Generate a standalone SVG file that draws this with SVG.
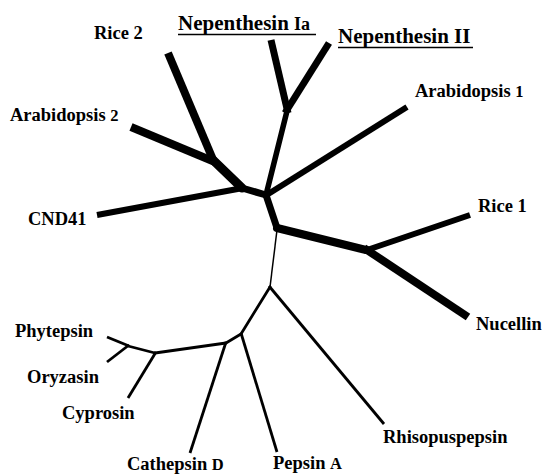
<svg xmlns="http://www.w3.org/2000/svg" width="542" height="475" viewBox="0 0 542 475">
<style>
text{font-family:"Liberation Serif","Times New Roman",serif;font-weight:bold;font-size:18.5px;fill:#000}
.big{font-size:21px}
.sm{font-size:16.5px}
.ul{stroke:#000;stroke-width:1.6}
line{stroke:#000;stroke-linecap:butt}
.in{stroke-linecap:round}
.w1{stroke-width:1.5}
.w3{stroke-width:2.8}
.w5{stroke-width:5.5}
.w6{stroke-width:6}
.w7{stroke-width:7}
.w8{stroke-width:8}
.w9{stroke-width:9}
</style>
<rect width="542" height="475" fill="#fff"/>
<g id="connectors">
<line class="in w9" x1="213" y1="160" x2="242" y2="188"/>
<line class="in w7" x1="242" y1="188" x2="266" y2="195"/>
<line class="in w5" x1="287" y1="111" x2="266" y2="195"/>
<line class="in w7" x1="266" y1="195" x2="277" y2="228"/>
<line class="in w8" x1="277" y1="228" x2="366" y2="250"/>
<line class="w1" x1="277" y1="230" x2="270" y2="287"/>
<line class="w8" x1="168" y1="53" x2="214" y2="162"/>
<line class="w8" x1="131" y1="127" x2="215" y2="162"/>
<line class="w6" x1="97" y1="215" x2="243" y2="188"/>
<line class="w7" x1="271" y1="40" x2="288" y2="113"/>
<line class="w7" x1="329" y1="43" x2="285" y2="113"/>
<line class="w6" x1="407" y1="107" x2="265" y2="196"/>
<line class="w6" x1="470" y1="215" x2="364" y2="251"/>
<line class="w8" x1="468" y1="317" x2="364" y2="248"/>
<line class="in w3" x1="270" y1="287" x2="241" y2="334"/>
<line class="in w3" x1="241" y1="334" x2="226" y2="343"/>
<line class="in w3" x1="226" y1="343" x2="155" y2="353"/>
<line class="in w3" x1="155" y1="353" x2="128" y2="346"/>
<line class="w3" x1="384" y1="424" x2="269" y2="286"/>
<line class="w3" x1="277" y1="452" x2="241" y2="333"/>
<line class="w3" x1="190" y1="453" x2="226" y2="342"/>
<line class="w3" x1="128" y1="398" x2="156" y2="352"/>
<line class="w3" x1="107" y1="337" x2="129" y2="346"/>
<line class="w3" x1="107" y1="362" x2="129" y2="345"/>
</g>
<g id="rice2"><text x="94" y="39">Rice 2</text></g>
<g id="nepenthesin-ia"><text class="big" x="178" y="30">Nepenthesin <tspan style="font-size:18px">Ia</tspan></text><line class="ul" x1="178" y1="34.5" x2="316" y2="34.5"/></g>
<g id="nepenthesin-ii"><text class="big" x="338" y="43">Nepenthesin II</text><line class="ul" x1="338" y1="47.5" x2="473" y2="47.5"/></g>
<g id="arabidopsis1"><text x="415" y="97">Arabidopsis <tspan class="sm">1</tspan></text></g>
<g id="arabidopsis2"><text x="10" y="121">Arabidopsis <tspan class="sm">2</tspan></text></g>
<g id="cnd41"><text x="28" y="225">CND41</text></g>
<g id="rice1"><text x="478" y="212">Rice 1</text></g>
<g id="nucellin"><text x="476" y="330">Nucellin</text></g>
<g id="phytepsin"><text x="15" y="337">Phytepsin</text></g>
<g id="oryzasin"><text x="27" y="383">Oryzasin</text></g>
<g id="cyprosin"><text x="62" y="419">Cyprosin</text></g>
<g id="rhisopuspepsin"><text x="383" y="443">Rhisopuspepsin</text></g>
<g id="cathepsin-d"><text x="127" y="470">Cathepsin <tspan class="sm">D</tspan></text></g>
<g id="pepsin-a"><text x="273" y="469">Pepsin <tspan class="sm">A</tspan></text></g>
</svg>
